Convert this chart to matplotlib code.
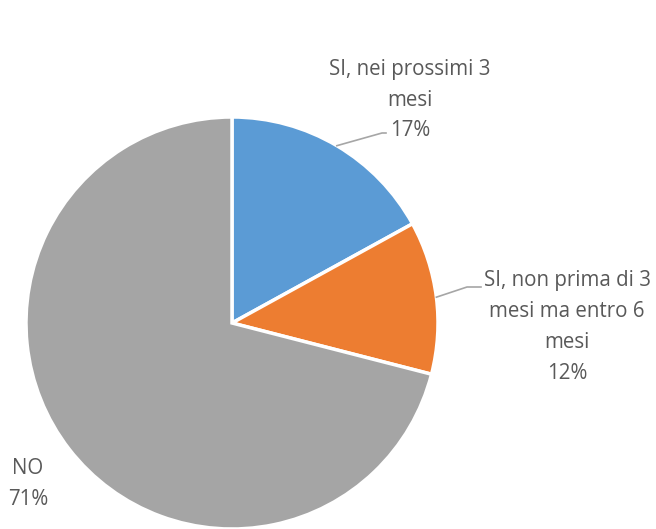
import matplotlib.pyplot as plt
import numpy as np

labels = ["SI, nei prossimi 3\nmesi", "SI, non prima di 3\nmesi ma entro 6\nmesi", "NO"]
values = [17, 12, 71]
colors = ["#5B9BD5", "#ED7D31", "#A5A5A5"]

W, H = 656, 529
fig = plt.figure(figsize=(W / 100, H / 100), dpi=100)
ax = fig.add_axes([0, 0, 1, 1])

cx, cy, r = 232, H - 323, 206
wedges, _ = ax.pie(values, colors=colors, startangle=90, counterclock=False,
                   center=(cx, cy), radius=r, frame=True,
                   wedgeprops=dict(edgecolor="white", linewidth=2.5))
ax.set_xlim(0, W)
ax.set_ylim(0, H)
ax.set_aspect("equal")
ax.axis("off")

txt = dict(color="#595959", fontsize=14.8, family="Open Sans", ha="center",
           va="center", linespacing=1.62)

# label positions (pixel space, y from top)
spots = [(410, 100), (567, 327), (28, 484)]
elbows = [(382, 133, 386), (467, 287, 481), None]
for w, lab, v, (tx, ty), el in zip(wedges, labels, values, spots, elbows):
    ax.text(tx, H - ty, f"{lab}\n{v}%", **txt)
    if el:
        ang = np.deg2rad((w.theta1 + w.theta2) / 2)
        ex, ey, hx = el
        sx, sy = cx + r * np.cos(ang), cy + r * np.sin(ang)
        ax.plot([sx, ex, hx], [sy, H - ey, H - ey], color="#A6A6A6", lw=1.2)

fig.savefig("out.png", dpi=100)
